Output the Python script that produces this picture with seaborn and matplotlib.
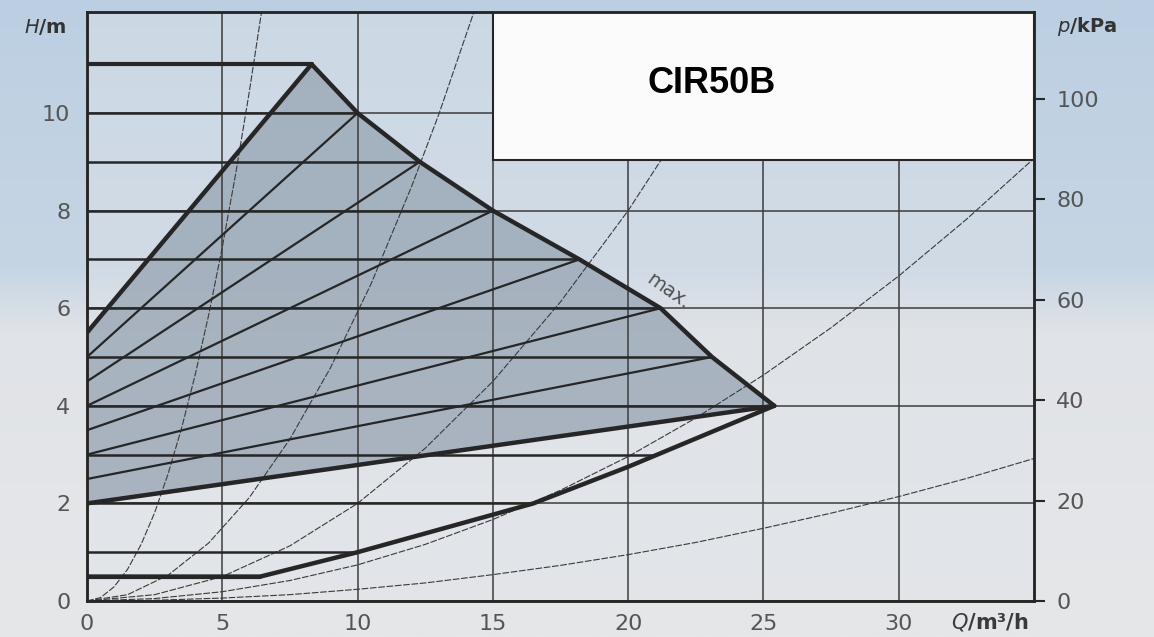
import numpy as np
import pandas as pd
import matplotlib
matplotlib.use("Agg")
import matplotlib.pyplot as plt
from matplotlib.patches import Rectangle
from matplotlib.colors import LinearSegmentedColormap
import seaborn as sns

# ---------------- data ----------------
q_ticks = [0, 5, 10, 15, 20, 25, 30]
h_ticks = [0, 2, 4, 6, 8, 10]
p_ticks = [0, 20, 40, 60, 80, 100]

# max curve (upper envelope)
max_q = [8.3, 10.0, 12.3, 15.0, 18.2, 21.2, 23.1, 25.4]
max_h = [11, 10, 9, 8, 7, 6, 5, 4]

# proportional-pressure lines: start head at Q=0, end on the max curve
prop_start_h = [5.5, 5.0, 4.5, 4.0, 3.5, 3.0, 2.5, 2.0]

# constant-pressure lines: head and end flow
const_h = [11, 10, 9, 8, 7, 6, 5, 4, 3, 2, 1, 0.5]
const_end_q = [8.3, 10.0, 12.3, 15.0, 18.2, 21.2, 23.1, 25.4, 21.0, 16.5, 10.0, 6.4]

# lower envelope
low_q = [0, 6.4, 10.0, 16.5, 20.0, 25.4]
low_h = [0.5, 0.5, 1.0, 2.0, 2.75, 4.0]

# system curves
sys1_q = [0, 0.5, 1.0, 1.5, 2.0, 2.5, 3.0, 3.5, 4.0, 4.5, 5.0, 5.5, 6.0, 6.45]
sys1_h = [0, 0.07, 0.29, 0.65, 1.16, 1.81, 2.61, 3.55, 4.64, 5.87, 7.25, 8.77, 10.44, 12.07]
sys2_q = [0, 1.5, 3.0, 4.5, 6.0, 7.5, 9.0, 10.5, 12.0, 13.0, 14.3]
sys2_h = [0, 0.13, 0.53, 1.19, 2.12, 3.32, 4.78, 6.50, 8.50, 9.97, 12.07]
sys3_q = [0, 2.5, 5.0, 7.5, 10.0, 12.5, 15.0, 17.5, 20.0, 22.5, 24.6]
sys3_h = [0, 0.13, 0.50, 1.13, 2.00, 3.13, 4.50, 6.13, 8.00, 10.13, 12.07]
sys4_q = [0, 2.5, 5.0, 7.5, 10.0, 12.5, 15.0, 17.5, 20.0, 22.5, 25.0, 27.5, 30.0, 32.5, 35.0]
sys4_h = [0, 0.05, 0.19, 0.42, 0.74, 1.16, 1.67, 2.27, 2.96, 3.75, 4.63, 5.60, 6.66, 7.82, 9.07]
sys5_q = [0, 2.5, 5.0, 7.5, 10.0, 12.5, 15.0, 17.5, 20.0, 22.5, 25.0, 27.5, 30.0, 32.5, 35.0]
sys5_h = [0, 0.015, 0.06, 0.13, 0.24, 0.37, 0.54, 0.73, 0.95, 1.20, 1.49, 1.80, 2.14, 2.51, 2.92]

title_text = "CIR50B"

# ---------------- style ----------------
sns.set_theme(style="white")
plt.rcParams["font.family"] = ["DejaVu Sans"]

W, H = 1154, 637
fig = plt.figure(figsize=(W / 100, H / 100), dpi=100)

# scanned-paper background
bg = fig.add_axes([0, 0, 1, 1], zorder=-10)
cmap = LinearSegmentedColormap.from_list(
    "paper", [(0.0, "#bccfe2"), (0.42, "#c6d5e4"), (0.52, "#e0e3e7"), (1.0, "#e6e7e9")])
grad = np.linspace(0, 1, 256).reshape(-1, 1)
bg.imshow(grad, cmap=cmap, aspect="auto", extent=[0, 1, 0, 1], origin="upper")
bg.axis("off")

ax = fig.add_axes([87 / W, 36 / H, (1034 - 87) / W, (601 - 12) / H])
ax.patch.set_facecolor("#dfe3e8")
ax.patch.set_alpha(0.45)
ax.set_xlim(0, 35)
ax.set_ylim(0, 12.07)

dark = "#262626"

# shaded operating area
poly_q = [0] + max_q[::-1] + [0]
poly_h = [prop_start_h[-1]] + max_h[::-1] + [prop_start_h[0]]
ax.fill(poly_q, poly_h, color="#9aa7b5", alpha=0.8, zorder=0.3, lw=0)

# grid
ax.set_xticks(q_ticks)
ax.set_yticks(h_ticks)
ax.set_axisbelow(True)
ax.grid(True, color="#3c3c3c", lw=1.1)

# system curves
for sq, sh in [(sys1_q, sys1_h), (sys2_q, sys2_h), (sys3_q, sys3_h),
               (sys4_q, sys4_h), (sys5_q, sys5_h)]:
    sns.lineplot(x=sq, y=sh, sort=False, estimator=None, ax=ax, color="#3a3a3a",
                 lw=0.8, linestyle=(0, (6, 1.5)), zorder=1.5)

# constant pressure lines
for h, qe in zip(const_h, const_end_q):
    bold = h in (const_h[0], const_h[-1])
    sns.lineplot(x=[0, qe], y=[h, h], sort=False, estimator=None, ax=ax,
                 color=dark, lw=3.0 if bold else 1.8, zorder=2)

# proportional pressure lines
for i, (h0, qe, he) in enumerate(zip(prop_start_h, max_q, max_h)):
    bold = i in (0, len(prop_start_h) - 1)
    sns.lineplot(x=[0, qe], y=[h0, he], sort=False, estimator=None, ax=ax,
                 color=dark, lw=3.2 if bold else 1.6, zorder=2.2)

# envelopes
sns.lineplot(x=max_q, y=max_h, sort=False, estimator=None, ax=ax, color=dark, lw=3.2, zorder=2.3)
sns.lineplot(x=low_q, y=low_h, sort=False, estimator=None, ax=ax, color=dark, lw=3.2, zorder=2.3)

# white title box
ax.add_patch(Rectangle((15, 9.03), 20, 3.2, facecolor="#fbfbfb", edgecolor=dark,
                       lw=1.5, zorder=3))
ax.text(20.7, 10.41, title_text, ha="left", va="baseline", fontsize=26,
        fontweight="bold", family="Liberation Sans", color="black", zorder=4)

ax.text(21.5, 6.35, "max.", rotation=-35, rotation_mode="anchor", ha="center",
        va="center", fontsize=14, color="#505050", zorder=4)

# ticks
ax.tick_params(axis="both", length=0, labelsize=16, labelcolor="#555555")
ax.tick_params(axis="y", pad=12)
ax.tick_params(axis="x", pad=9)
for s in ax.spines.values():
    s.set_visible(True)
    s.set_color(dark)
    s.set_linewidth(1.8)
    s.set_zorder(5)

ax2 = ax.twinx()
ax2.set_ylim(0, 117.3)
ax2.set_yticks(p_ticks)
ax2.tick_params(axis="y", direction="out", length=8, width=1.5, color=dark,
                labelsize=16, labelcolor="#555555", pad=8)
for s in ax2.spines.values():
    s.set_visible(True)
    s.set_color(dark)
    s.set_linewidth(1.8)
ax2.grid(False)

# axis names
fig.text(45 / W, 1 - 27 / H, r"$H$/m", ha="center", va="center", fontsize=14,
         fontweight="bold", color="#333333")
fig.text(1087 / W, 1 - 27 / H, r"$p$/kPa", ha="center", va="center", fontsize=14,
         fontweight="bold", color="#333333")
fig.text(990 / W, 1 - 622 / H, r"$Q$/m³/h", ha="center", va="center", fontsize=15,
         fontweight="bold", color="#3a3a3a")

fig.savefig("out.png", dpi=100)
